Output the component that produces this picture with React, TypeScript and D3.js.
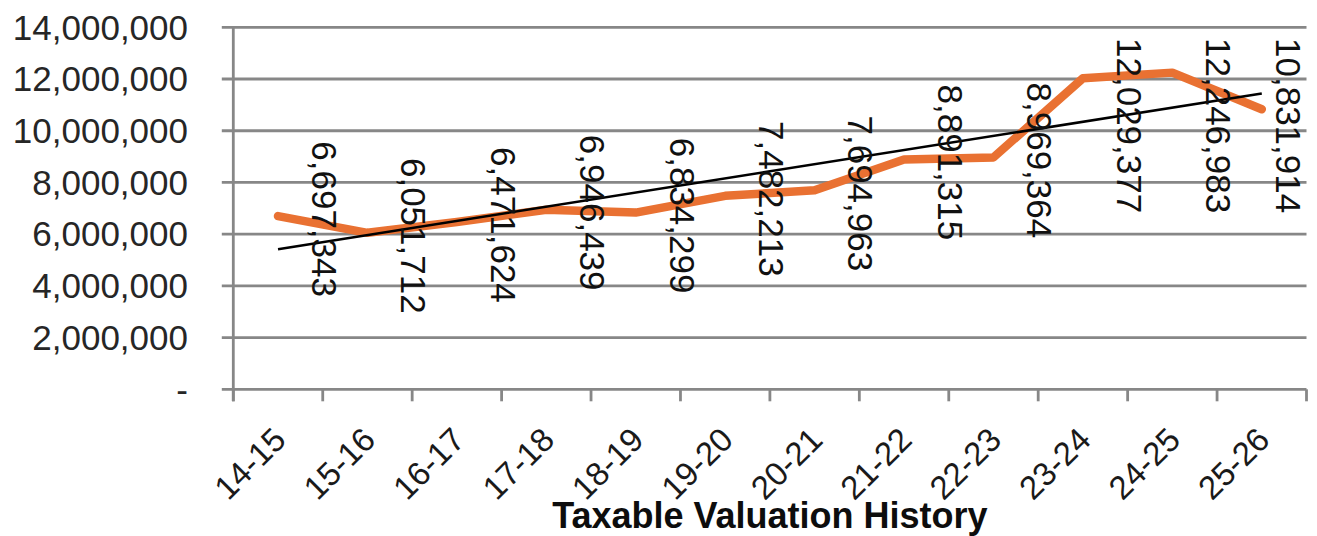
import React, { useEffect, useRef } from "react";
import * as d3 from "d3";

const categories = ["14-15", "15-16", "16-17", "17-18", "18-19", "19-20", "20-21", "21-22", "22-23", "23-24", "24-25", "25-26"];
const valuations = [6697343, 6051712, 6471624, 6946439, 6834299, 7482213, 7694963, 8891315, 8969364, 12029377, 12246983, 10831914];
const yTicks = [0, 2000000, 4000000, 6000000, 8000000, 10000000, 12000000, 14000000];
const title = "Taxable Valuation History";

const W = 1317;
const H = 536;
const left = 233.3;
const right = 1306.5;
const top = 27.3;
const bottom = 389.3;

export default function App() {
  const ref = useRef<SVGSVGElement | null>(null);

  useEffect(() => {
    const svg = d3.select(ref.current);
    svg.selectAll("*").remove();

    const x = d3.scaleBand<string>().domain(categories).range([left, right]).padding(0);
    const y = d3.scaleLinear().domain([0, 14000000]).range([bottom, top]);
    const cx = (c: string) => (x(c) as number) + x.bandwidth() / 2;
    const grid = "#878787";
    const fmt = d3.format(",");

    // gridlines + y tick labels
    svg.append("g")
      .selectAll("line")
      .data(yTicks)
      .join("line")
      .attr("x1", left - 11.5)
      .attr("x2", right)
      .attr("y1", (d) => y(d))
      .attr("y2", (d) => y(d))
      .attr("stroke", grid)
      .attr("stroke-width", 2.8);

    svg.append("g")
      .selectAll("text")
      .data(yTicks)
      .join("text")
      .attr("x", 188)
      .attr("y", (d) => y(d))
      .attr("dy", "0.35em")
      .attr("text-anchor", "end")
      .attr("font-family", "Liberation Sans, Arial, sans-serif")
      .attr("font-size", 35)
      .attr("fill", "#262626")
      .text((d) => (d === 0 ? "-" : fmt(d)));

    // axis lines
    svg.append("line")
      .attr("x1", left).attr("x2", left)
      .attr("y1", top).attr("y2", bottom + 12)
      .attr("stroke", grid).attr("stroke-width", 2.8);

    const bounds = categories.map((c) => x(c) as number).concat([right]);
    svg.append("g")
      .selectAll("line")
      .data(bounds)
      .join("line")
      .attr("x1", (d) => d)
      .attr("x2", (d) => d)
      .attr("y1", bottom)
      .attr("y2", bottom + 12)
      .attr("stroke", grid)
      .attr("stroke-width", 2.8);

    // x labels
    svg.append("g")
      .selectAll("text")
      .data(categories)
      .join("text")
      .attr("transform", (d) => `translate(${cx(d) - 7},${425}) rotate(-45)`)
      .attr("dy", "0.72em")
      .attr("text-anchor", "end")
      .attr("font-family", "Liberation Sans, Arial, sans-serif")
      .attr("font-size", 33)
      .attr("fill", "#1a1a1a")
      .text((d) => d);

    // trend line (least squares)
    const idx = valuations.map((_, i) => i);
    const mx = d3.mean(idx) as number;
    const my = d3.mean(valuations) as number;
    const slope = d3.sum(idx, (i) => (i - mx) * (valuations[i] - my)) / d3.sum(idx, (i) => (i - mx) ** 2);
    const icpt = my - slope * mx;

    // series line
    svg.append("path")
      .datum(valuations)
      .attr("fill", "none")
      .attr("stroke", "#E97132")
      .attr("stroke-width", 8.5)
      .attr("stroke-linejoin", "round")
      .attr("stroke-linecap", "round")
      .attr("d", d3.line<number>()
        .x((_, i) => cx(categories[i]))
        .y((d) => y(d)));

    svg.append("path")
      .datum([0, categories.length - 1])
      .attr("fill", "none")
      .attr("stroke", "#000")
      .attr("stroke-width", 2.5)
      .attr("d", d3.line<number>()
        .x((i) => cx(categories[i]))
        .y((i) => y(icpt + slope * i)));

    // data labels, rotated
    const labels = svg.append("g")
      .selectAll("text")
      .data(valuations)
      .join("text")
      .attr("text-anchor", "middle")
      .attr("dy", "0.35em")
      .attr("font-family", "Liberation Sans, Arial, sans-serif")
      .attr("font-size", 35)
      .attr("fill", "#111")
      .text((d) => fmt(d));

    labels.each(function (d, i) {
      const node = this as SVGTextElement;
      const len = node.getComputedTextLength();
      let lx = cx(categories[i]) + 46;
      let ly = y(d) + 3;
      if (ly - len / 2 < 38) ly = 38 + len / 2;
      if (lx + 14 > 1302) lx = 1288;
      d3.select(node).attr("transform", `translate(${lx},${ly}) rotate(90)`);
    });

    // title
    svg.append("text")
      .attr("x", (left + right) / 2)
      .attr("y", 528)
      .attr("text-anchor", "middle")
      .attr("font-family", "Liberation Sans, Arial, sans-serif")
      .attr("font-weight", "bold")
      .attr("font-size", 36)
      .attr("fill", "#0d0d0d")
      .text(title);
  }, []);

  return (
    <svg
      ref={ref}
      width={W}
      height={H}
      style={{ position: "absolute", left: 0, top: 0, background: "#fff" }}
    />
  );
}
